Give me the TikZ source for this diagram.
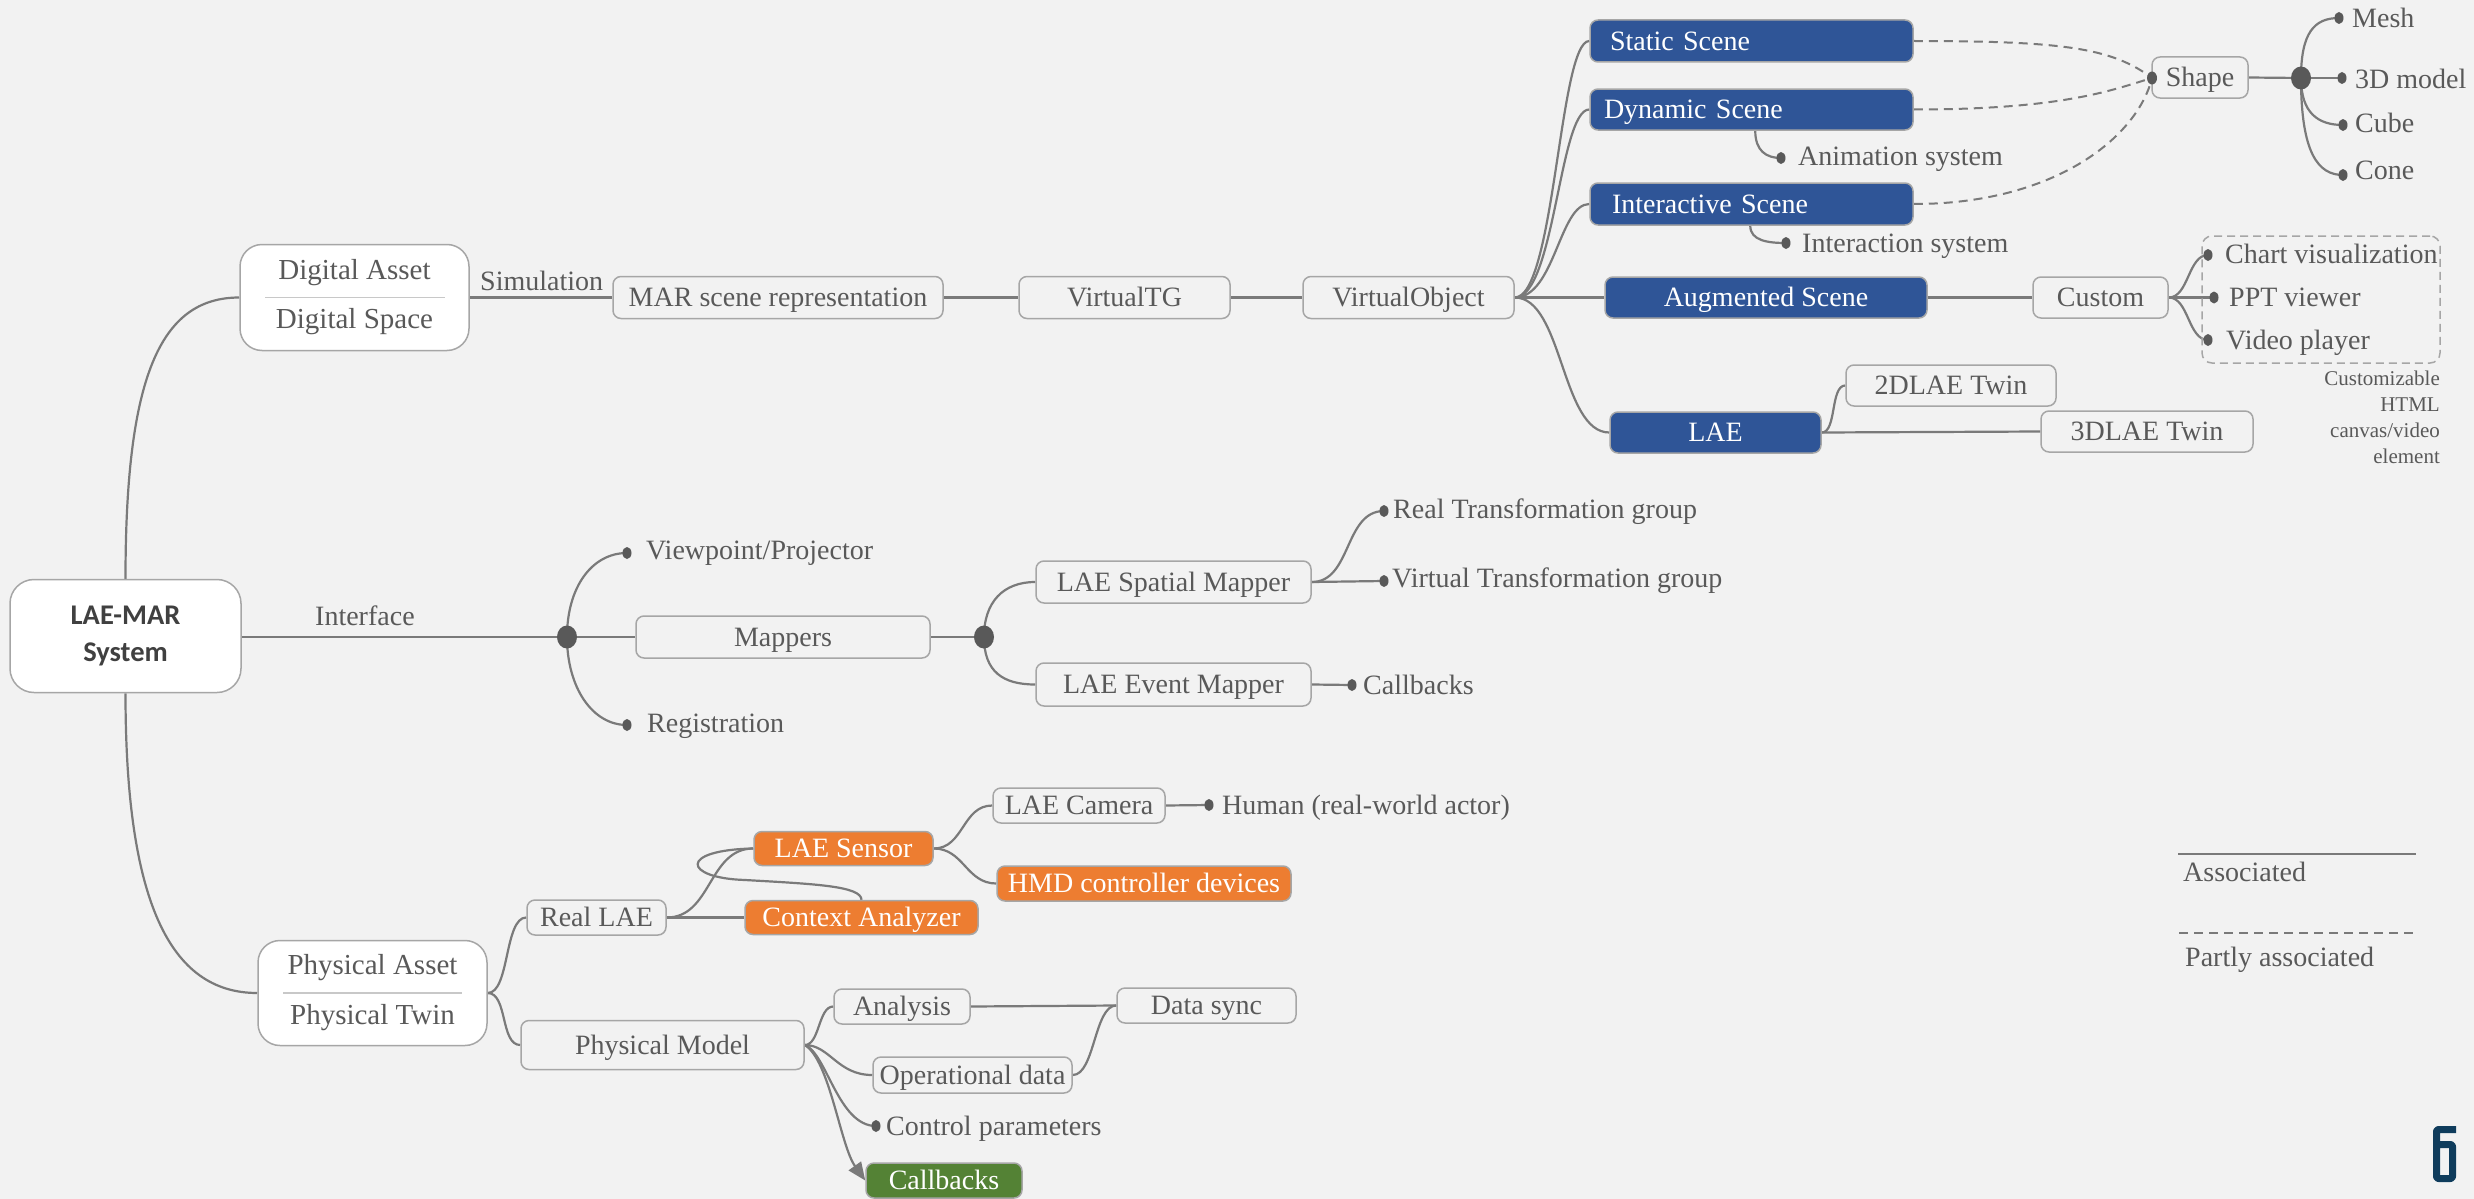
\documentclass[tikz,border=0pt]{standalone}
\usepackage{fontspec}
\setmainfont{Liberation Serif}
\newfontfamily\serifface{Liberation Serif}
\newfontfamily\rootfont{Carlito}
\usetikzlibrary{arrows.meta,shapes.geometric}

\definecolor{paperc}{HTML}{F2F2F2}
\definecolor{inkc}{HTML}{595959}
\definecolor{linkc}{HTML}{7A7A7A}
\definecolor{framec}{HTML}{A6A6A6}
\definecolor{bluec}{HTML}{2F5597}
\definecolor{orangec}{HTML}{ED7D31}
\definecolor{greenc}{HTML}{548235}
\definecolor{navyc}{HTML}{0F3C5C}
\definecolor{rootink}{HTML}{404040}
\definecolor{rulec}{HTML}{C8C8C8}

\pgfdeclarelayer{paper}
\pgfdeclarelayer{links}
\pgfsetlayers{paper,links,main}

\tikzset{
  lbl/.style={font=\serifface\fontsize{28}{34}\selectfont, text=inkc, inner sep=0pt,
              text height=18.5pt, text depth=0pt},
  box/.style={lbl, draw=framec, line width=1.5pt, rounded corners=8pt},
  bluebox/.style={box, fill=bluec, text=white},
  orangebox/.style={box, fill=orangec, text=white},
  greenbox/.style={box, fill=greenc, text=white},
  txt/.style={lbl, anchor=west},
  note/.style={font=\serifface\fontsize{21}{26}\selectfont, text=inkc, inner sep=0pt, align=right},
  dot/.style={ellipse, fill=inkc, inner sep=0pt, minimum width=9pt, minimum height=12pt},
  hubdot/.style={ellipse, fill=inkc, inner sep=0pt, minimum width=20pt, minimum height=23pt},
  link/.style={draw=linkc, line width=2.2pt},
  plink/.style={draw=linkc, line width=2pt, dash pattern=on 9pt off 6pt},
  rootbox/.style={draw=framec, fill=white, line width=1.5pt, rounded corners=24pt,
                  inner sep=0pt, align=center, text=rootink,
                  font=\rootfont\bfseries\fontsize{28.5}{37}\selectfont},
  assetbox/.style={draw=framec, fill=white, line width=1.5pt, rounded corners=22pt,
                   inner sep=0pt, align=center, text=inkc},
  groupbox/.style={draw=framec, line width=1.5pt, dash pattern=on 8pt off 5pt,
                   rounded corners=10pt, inner sep=0pt},
  legline/.style={draw=linkc, line width=2pt},
}

\begin{document}
\begin{tikzpicture}[x=1pt, y=-1pt, line join=round]
\useasboundingbox (0,0) rectangle (2474,1199);
\begin{pgfonlayer}{paper}
  \fill[paperc] (0,0) rectangle (2474,1199);
\end{pgfonlayer}

% ---------- main nodes ----------
\node[rootbox, minimum width=231pt, minimum height=113pt] (root) at (125.5,636) {LAE-MAR\\System};
\node[assetbox, minimum width=229pt, minimum height=106pt,
      font=\serifface\fontsize{29}{49}\selectfont] (da) at (354.5,297.5) {Digital Asset\\Digital Space};
\node[assetbox, minimum width=229pt, minimum height=105pt,
      font=\serifface\fontsize{29}{50}\selectfont] (pa) at (372.5,993) {Physical Asset\\Physical Twin};
\draw[rulec, line width=1.5pt] ([xshift=26pt]da.west) -- ([xshift=-25pt]da.east);
\draw[rulec, line width=1.5pt] ([xshift=26pt]pa.west) -- ([xshift=-26pt]pa.east);

\node[txt] (simtxt) at (480,281) {Simulation};
\node[txt] (iftxt) at (315,616.5) {Interface};

% digital branch
\node[box, minimum width=330pt, minimum height=42pt] (mar) at (778,297.5) {MAR scene representation};
\node[box, minimum width=211pt, minimum height=42pt] (vtg) at (1124.5,297.5) {VirtualTG};
\node[box, minimum width=211pt, minimum height=42pt] (vo) at (1408.5,297.5) {VirtualObject};

\node[bluebox, minimum height=42pt, text width=283pt, align=left, inner xsep=20pt] (ss) at (1751.5,41) {Static Scene};
\node[bluebox, minimum height=41pt, text width=295pt, align=left, inner xsep=14pt] (ds) at (1751.5,109.5) {Dynamic Scene};
\node[bluebox, minimum height=42pt, text width=279pt, align=left, inner xsep=22pt] (is) at (1751.5,204) {Interactive Scene};
\node[bluebox, minimum width=322pt, minimum height=41pt] (as) at (1766,297.5) {Augmented Scene};
\node[bluebox, minimum width=211pt, minimum height=41pt] (lae) at (1715.5,432.5) {LAE};

\node[dot] (animdot) at (1781,158) {};
\node[txt] (animtxt) at (1798,156) {Animation system};
\node[dot] (interdot) at (1786,243) {};
\node[txt] (intertxt) at (1802,243) {Interaction system};

\node[box, minimum width=96pt, minimum height=41pt] (shape) at (2200,77.5) {Shape};
\node[ellipse, fill=inkc, inner sep=0pt, minimum width=10pt, minimum height=13pt] (shapedot) at (2152,78) {};
\node[hubdot] (shub) at (2301,78) {};
\node[dot] (meshdot) at (2339,18) {};
\node[txt] (meshtxt) at (2352,18) {Mesh};
\node[dot] (modeldot) at (2342,78) {};
\node[txt] (modeltxt) at (2355,79) {3D model};
\node[dot] (cubedot) at (2343,125) {};
\node[txt] (cubetxt) at (2355,123) {Cube};
\node[dot] (conedot) at (2343,175) {};
\node[txt] (conetxt) at (2355,170) {Cone};

\node[box, minimum width=135pt, minimum height=41pt] (custom) at (2100.5,297.5) {Custom};
\node[groupbox, minimum width=238pt, minimum height=127pt] (custgroup) at (2321,299.5) {};
\node[dot] (chartdot) at (2208,255) {};
\node[txt] (charttxt) at (2225,254) {Chart visualization};
\node[dot] (pptdot) at (2214,297.5) {};
\node[txt] (ppttxt) at (2229,297) {PPT viewer};
\node[dot] (videodot) at (2208,340) {};
\node[txt] (videotxt) at (2226,340) {Video player};
\node[note, anchor=north east] (custnote) at (2440,370.5) {Customizable\\HTML\\canvas/video\\element};

\node[box, minimum width=210pt, minimum height=41pt] (twin2) at (1951,385.5) {2DLAE Twin};
\node[box, minimum width=212pt, minimum height=41pt] (twin3) at (2147,431.5) {3DLAE Twin};

% interface branch
\node[hubdot] (hub1) at (567,637) {};
\node[dot] (vpdot) at (627,553) {};
\node[txt] (vptxt) at (646,550) {Viewpoint/Projector};
\node[dot] (regdot) at (627,725) {};
\node[txt] (regtxt) at (647,723) {Registration};
\node[box, minimum width=294pt, minimum height=42pt] (map) at (783,637) {Mappers};
\node[hubdot] (hub2) at (984,637) {};
\node[box, minimum width=275pt, minimum height=42pt] (sm) at (1173.5,582) {LAE Spatial Mapper};
\node[box, minimum width=275pt, minimum height=43pt] (em) at (1173.5,684.5) {LAE Event Mapper};
\node[dot] (rtgdot) at (1384,511) {};
\node[txt] (rtgtxt) at (1393,509) {Real Transformation group};
\node[dot] (vtgdot) at (1384,581) {};
\node[txt] (vtgtxt) at (1392,578) {Virtual Transformation group};
\node[dot] (mcbdot) at (1352,685) {};
\node[txt] (mcbtxt) at (1363,685) {Callbacks};

% physical branch
\node[box, minimum width=139pt, minimum height=35pt] (real) at (596.5,917.5) {Real LAE};
\node[orangebox, minimum width=179pt, minimum height=34pt] (sens) at (843.5,848.5) {LAE Sensor};
\node[orangebox, minimum width=233pt, minimum height=34pt] (ctx) at (861.5,917.5) {Context Analyzer};
\node[box, minimum width=172pt, minimum height=35pt] (cam) at (1079,805.5) {LAE Camera};
\node[dot] (humdot) at (1209,805) {};
\node[txt] (humtxt) at (1222,805) {Human (real-world actor)};
\node[orangebox, minimum width=294pt, minimum height=35pt] (hmd) at (1144,883.5) {HMD controller devices};

\node[box, minimum width=283pt, minimum height=49pt] (pm) at (662.5,1045) {Physical Model};
\node[box, minimum width=136pt, minimum height=35pt] (an) at (902,1006.5) {Analysis};
\node[box, minimum width=179pt, minimum height=35pt] (sync) at (1206.5,1005.5) {Data sync};
\node[box, minimum width=199pt, minimum height=36pt] (od) at (972.5,1075) {Operational data};
\node[dot] (cpdot) at (876,1126) {};
\node[txt] (cptxt) at (886,1126) {Control parameters};
\node[greenbox, minimum width=156pt, minimum height=35pt] (gcb) at (944,1180.5) {Callbacks};

% ---------- connectors ----------
\begin{pgfonlayer}{links}
  % trunk
  \draw[link] (root.north) .. controls +(0,-200) and +(-80,0) .. (da.west);
  \draw[link] (root.south) .. controls +(0,207) and +(-88,0) .. (pa.west);
  \draw[link] (root.east |- hub1.center) -- (hub1.center);
  \draw[link] (da.east) -- (mar.west);

  % digital branch
  \draw[link] (mar.east) -- (vtg.west);
  \draw[link] (vtg.east) -- (vo.west);
  \draw[link] (vo.east) .. controls +(40,0) and +(-30,0) .. (ss.west);
  \draw[link] (vo.east) .. controls +(40,0) and +(-30,0) .. (ds.west);
  \draw[link] (vo.east) .. controls +(40,0) and +(-30,0) .. (is.west);
  \draw[link] (vo.east) -- (as.west);
  \draw[link] (vo.east) .. controls +(48,0) and +(-48,0) .. (lae.west);
  \draw[link] ([xshift=166pt]ds.south west) .. controls +(0,20) and +(-15,0) .. (animdot.center);
  \draw[link] ([xshift=161pt]is.south west) .. controls +(0,15) and +(-18,0) .. (interdot.center);

  \draw[plink] (ss.east) .. controls +(150,0) and +(-40,-30) .. (shapedot.center);
  \draw[plink] (ds.east) .. controls +(150,0) and +(-40,12) .. (shapedot.center);
  \draw[plink] (is.east) .. controls +(140,0) and +(-15,60) .. (shapedot.center);

  \draw[link] (shape.east) -- (shub.center);
  \draw[link] (shub.center) -- (modeldot.center);
  \draw[link] (shub.center) .. controls +(0,-45) and +(-25,0) .. (meshdot.center);
  \draw[link] (shub.center) .. controls +(0,35) and +(-25,0) .. (cubedot.center);
  \draw[link] (shub.center) .. controls +(0,75) and +(-25,0) .. (conedot.center);

  \draw[link] (as.east) -- (custom.west);
  \draw[link] (custom.east) .. controls +(20,0) and +(-20,0) .. (chartdot.center);
  \draw[link] (custom.east) -- (pptdot.center);
  \draw[link] (custom.east) .. controls +(20,0) and +(-20,0) .. (videodot.center);

  \draw[link] (lae.east) .. controls +(15,0) and +(-15,0) .. (twin2.west);
  \draw[link] (lae.east) -- (twin3.west);

  % interface branch
  \draw[link] (hub1.center) .. controls +(0,-50) and +(-35,0) .. (vpdot.center);
  \draw[link] (hub1.center) .. controls +(0,50) and +(-35,0) .. (regdot.center);
  \draw[link] (hub1.center) -- (map.west);
  \draw[link] (map.east) -- (hub2.center);
  \draw[link] (hub2.center) .. controls +(0,-35) and +(-32,0) .. (sm.west);
  \draw[link] (hub2.center) .. controls +(0,35) and +(-32,0) .. (em.west);
  \draw[link] (sm.east) .. controls +(40,0) and +(-40,0) .. (rtgdot.center);
  \draw[link] (sm.east) -- (vtgdot.center);
  \draw[link] (em.east) -- (mcbdot.center);

  % physical branch
  \draw[link] (pa.east) .. controls +(22,0) and +(-22,0) .. (real.west);
  \draw[link] (pa.east) .. controls +(20,0) and +(-20,0) .. (pm.west);
  \draw[link] (real.east) -- (ctx.west);
  \draw[link] (real.east) .. controls +(45,0) and +(-45,0) .. (sens.west);
  \draw[link] (sens.west) .. controls (678,850) and (683,878) .. (745,880)
                          .. controls (815,884) and (861,886) .. (ctx.north);
  \draw[link] (sens.east) .. controls +(30,0) and +(-30,0) .. (cam.west);
  \draw[link] (sens.east) .. controls +(30,0) and +(-30,0) .. (hmd.west);
  \draw[link] (cam.east) -- (humdot.center);

  \draw[link] (pm.east) .. controls +(15,0) and +(-15,0) .. (an.west);
  \draw[link] (pm.east) .. controls +(25,0) and +(-35,0) .. (od.west);
  \draw[link] (pm.east) .. controls +(22,8) and +(-38,0) .. (cpdot.center);
  \draw[link, -{Triangle[length=18pt,width=15pt]}] (pm.east) .. controls +(25,15) and +(-25,-35) .. (gcb.west);
  \draw[link] (an.east) -- (sync.west);
  \draw[link] (od.east) .. controls +(22,0) and +(-22,0) .. (sync.west);
\end{pgfonlayer}

% ---------- legend ----------
\coordinate (legA) at (2178,854);
\coordinate (legB) at (2416,854);
\coordinate (legC) at (2179,933);
\coordinate (legD) at (2417,933);
\draw[legline] (legA) -- (legB);
\draw[legline, dash pattern=on 9pt off 6pt] (legC) -- (legD);
\node[txt] (assoc) at (2183,872) {Associated};
\node[txt] (passoc) at (2185,957) {Partly associated};

% ---------- page number ----------
\draw[navyc, line width=7pt, rounded corners=2pt]
  (2456,1129.5) -- (2436.5,1129.5) -- (2436.5,1178.5) -- (2452.5,1178.5)
  -- (2452.5,1144.5) -- (2436.5,1144.5);
\end{tikzpicture}
\end{document}
